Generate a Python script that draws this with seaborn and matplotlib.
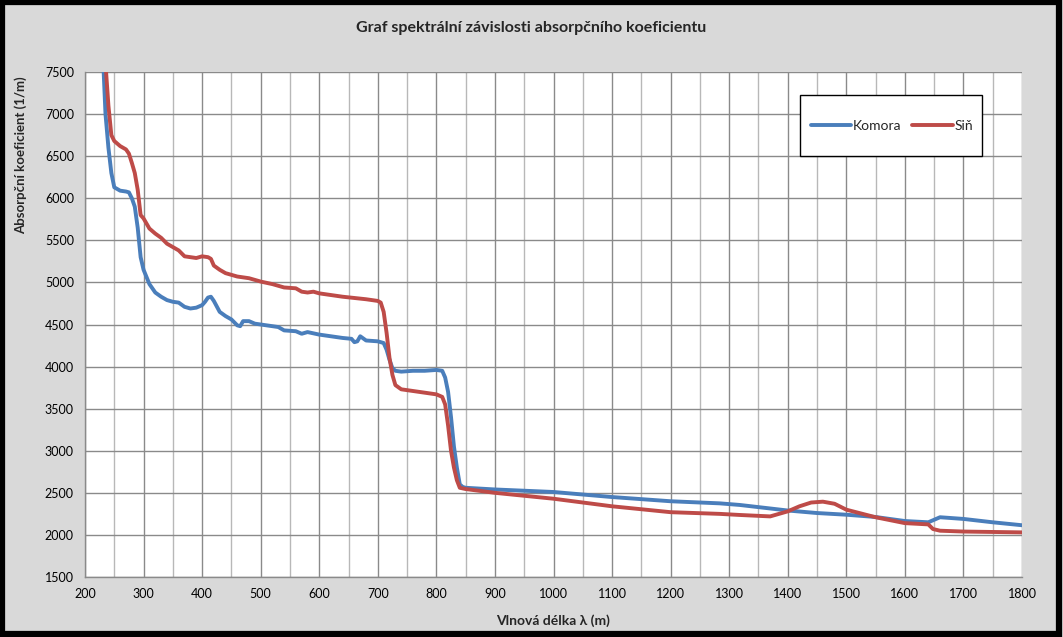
import matplotlib
matplotlib.use("Agg")
import matplotlib.pyplot as plt
import seaborn as sns
import pandas as pd
from matplotlib.patches import Rectangle
from matplotlib.ticker import MultipleLocator

# ---- data ----
komora_x = [230, 235, 240, 245, 250, 260, 270, 275, 280, 285, 290, 295, 300, 310, 320, 330, 340,
            350, 360, 370, 380, 390, 400, 405, 410, 415, 420, 430, 440, 450, 460, 465, 470, 480,
            490, 500, 520, 530, 540, 560, 570, 580, 600, 620, 640, 655, 660, 665, 670, 680, 700,
            710, 715, 720, 725, 730, 740, 760, 780, 800, 810, 815, 820, 825, 830, 835, 840, 845,
            850, 900, 1000, 1100, 1200, 1284, 1318, 1400, 1450, 1500, 1550, 1600, 1640, 1650,
            1660, 1700, 1750, 1800]
komora_y = [7800, 7000, 6600, 6300, 6130, 6090, 6080, 6070, 6000, 5900, 5650, 5300, 5150, 4980,
            4880, 4830, 4790, 4770, 4760, 4710, 4690, 4700, 4730, 4770, 4820, 4830, 4780, 4650,
            4600, 4560, 4490, 4480, 4540, 4540, 4510, 4500, 4480, 4470, 4430, 4420, 4390, 4410,
            4380, 4360, 4340, 4330, 4290, 4300, 4360, 4310, 4300, 4280, 4200, 4080, 3980, 3950,
            3940, 3950, 3950, 3960, 3950, 3870, 3700, 3400, 3050, 2800, 2600, 2570, 2560, 2540,
            2510, 2450, 2400, 2375, 2356, 2290, 2260, 2240, 2213, 2165, 2150, 2180, 2210, 2190,
            2150, 2115]

sin_x = [235, 240, 245, 250, 260, 270, 275, 280, 285, 290, 295, 300, 310, 320, 330, 340, 350,
         360, 370, 380, 390, 400, 410, 415, 420, 430, 440, 450, 460, 480, 500, 520, 540, 560,
         570, 580, 590, 600, 640, 680, 700, 705, 710, 715, 720, 725, 730, 740, 760, 780, 800,
         810, 815, 820, 825, 830, 835, 840, 850, 900, 1000, 1100, 1200, 1284, 1318, 1370, 1400,
         1420, 1440, 1460, 1480, 1500, 1550, 1600, 1640, 1648, 1660, 1700, 1800]
sin_y = [7600, 7100, 6750, 6680, 6620, 6580, 6530, 6420, 6300, 6100, 5800, 5760, 5640, 5580,
         5530, 5460, 5420, 5380, 5310, 5300, 5290, 5310, 5300, 5280, 5200, 5150, 5110, 5090,
         5070, 5050, 5010, 4980, 4940, 4930, 4890, 4880, 4890, 4870, 4830, 4800, 4780, 4760,
         4650, 4400, 4100, 3900, 3780, 3730, 3710, 3690, 3670, 3640, 3550, 3300, 3000, 2800,
         2650, 2560, 2545, 2500, 2430, 2340, 2270, 2250, 2237, 2220, 2280, 2340, 2385, 2395,
         2370, 2300, 2210, 2140, 2125, 2070, 2050, 2040, 2030]

series_names = ["Komora", "Siň"]
title = "Graf spektrální závislosti absorpčního koeficientu"
xlabel = "Vlnová délka λ (m)"
ylabel = "Absorpční koeficient (1/m)"

df = pd.concat([
    pd.DataFrame({"x": komora_x, "y": komora_y, "s": series_names[0]}),
    pd.DataFrame({"x": sin_x, "y": sin_y, "s": series_names[1]}),
], ignore_index=True)

sns.set_theme(style="white")
plt.rcParams["font.family"] = ["Lato", "DejaVu Sans"]

W, H = 1063, 637
fig = plt.figure(figsize=(W / 100, H / 100), dpi=100)
fig.patch.set_facecolor("#d9d9d9")
fig.patches.append(Rectangle((0.002, 0.004), 0.994, 0.993, transform=fig.transFigure,
                             fill=False, edgecolor="black", linewidth=4.5, zorder=10))

ax = fig.add_axes([85 / W, 1 - 577 / H, (1022 - 85) / W, (577 - 72) / H])
ax.set_facecolor("white")

sns.lineplot(data=df, x="x", y="y", hue="s", ax=ax, sort=False, estimator=None,
             palette=["#4a7ebb", "#be4b48"], linewidth=2.8, legend=True)

ax.set_xlim(200, 1800)
ax.set_ylim(1500, 7500)
ax.xaxis.set_major_locator(MultipleLocator(100))
ax.xaxis.set_minor_locator(MultipleLocator(50))
ax.yaxis.set_major_locator(MultipleLocator(500))
ax.grid(which="major", axis="both", color="#8a8a8a", linewidth=1.0)
ax.grid(which="minor", axis="x", color="#b8b8b8", linewidth=1.0)
ax.set_axisbelow(True)
for side in ["top", "right"]:
    ax.spines[side].set_visible(False)
for side in ["left", "bottom"]:
    ax.spines[side].set_color("#8a8a8a")
    ax.spines[side].set_linewidth(1.0)
ax.tick_params(axis="both", which="both", length=0, labelsize=9, colors="black", pad=8)

ax.set_xlabel(xlabel, fontsize=10, fontweight="bold", labelpad=10)
ax.set_ylabel(ylabel, fontsize=9.5, fontweight="bold")
ax.yaxis.set_label_coords(-0.062, 0.835)

fig.text(0.5, 1 - 28 / H, title, ha="center", va="center", fontsize=11.5, fontweight="bold")

# legend box
box = Rectangle((800 / W, 1 - 156 / H), 182 / W, 61 / H, transform=fig.transFigure,
                facecolor="white", edgecolor="black", linewidth=1.0, zorder=5, clip_on=False)
ax.add_patch(box)
handles, labels = ax.get_legend_handles_labels()
leg = ax.legend(handles, labels, ncol=2, loc="center",
                bbox_to_anchor=(892 / W, 1 - 125.5 / H), bbox_transform=fig.transFigure,
                frameon=False, fontsize=10, handlelength=2.9, handletextpad=0.15,
                columnspacing=0.8, borderpad=0.2)
leg.set_zorder(6)

fig.savefig("out.png", dpi=100, facecolor=fig.get_facecolor())
